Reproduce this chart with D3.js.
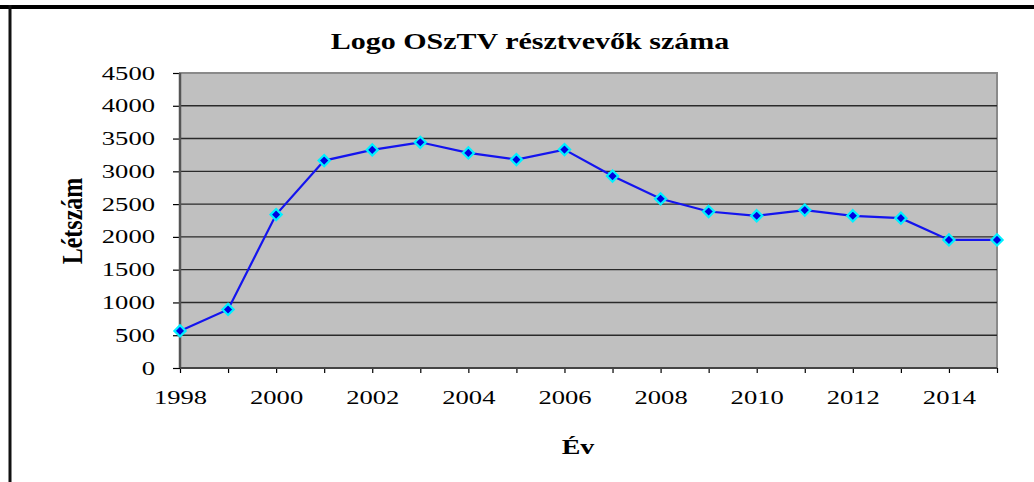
<!DOCTYPE html>
<html lang="hu">
<head>
    <meta charset="UTF-8">
    <title>Logo OSzTV résztvevők száma</title>
    <script src="https://d3js.org/d3.v7.min.js"></script>
    <style>
        html, body { margin: 0; padding: 0; background: #fff; }
        svg { display: block; }
        text { font-family: "Liberation Serif", "Times New Roman", serif; fill: #000; }
        .axis path { display: none; }
        .axis line { stroke: #000; stroke-width: 1.2px; }
        .axis text { font-size: 19px; }
        .grid line { stroke: #2a2a2a; stroke-width: 1.4px; }
    </style>
</head>
<body>
    <svg width="1034" height="482"></svg>

    <script>
        // data
        const years = [1998, 1999, 2000, 2001, 2002, 2003, 2004, 2005, 2006,
                       2007, 2008, 2009, 2010, 2011, 2012, 2013, 2014, 2015];
        const participants = [566, 893, 2340, 3164, 3327, 3443, 3281, 3179, 3332,
                              2928, 2581, 2387, 2322, 2409, 2322, 2286, 1954, 1954];
        const yTicks = [0, 500, 1000, 1500, 2000, 2500, 3000, 3500, 4000, 4500];

        const titleText = "Logo OSzTV résztvevők száma";
        const xLabel = "Év";
        const yLabel = "Létszám";

        const svg = d3.select("svg");
        const stretch = 1.4; // text in the original looks horizontally stretched

        const plot = { left: 180, right: 997, top: 73, bottom: 368 };

        const x = d3.scaleLinear()
            .domain([years[0], years[years.length - 1]])
            .range([plot.left, plot.right]);
        const y = d3.scaleLinear()
            .domain([0, 4500])
            .range([plot.bottom, plot.top]);

        // frame lines around the page
        svg.append("rect")
            .attr("x", 0).attr("y", 5)
            .attr("width", 1034).attr("height", 4)
            .attr("fill", "#000");
        svg.append("rect")
            .attr("x", 8.5).attr("y", 5)
            .attr("width", 3).attr("height", 477)
            .attr("fill", "#111");

        // plot background
        svg.append("rect")
            .attr("x", plot.left).attr("y", plot.top)
            .attr("width", plot.right - plot.left)
            .attr("height", plot.bottom - plot.top)
            .attr("fill", "#c0c0c0")
            .attr("stroke", "#8a8a8a")
            .attr("stroke-width", 2);

        // horizontal grid lines
        svg.append("g")
            .attr("class", "grid")
            .selectAll("line")
            .data(yTicks.filter(d => d > 0 && d < 4500))
            .enter().append("line")
            .attr("x1", plot.left).attr("x2", plot.right)
            .attr("y1", d => y(d)).attr("y2", d => y(d));

        // axes
        svg.append("g")
            .attr("class", "axis")
            .attr("transform", `translate(${plot.left},0)`)
            .call(d3.axisLeft(y).tickValues(yTicks).tickSize(7).tickPadding(18)
                .tickFormat(d3.format("d")));

        svg.append("g")
            .attr("class", "axis")
            .attr("transform", `translate(0,${plot.bottom})`)
            .call(d3.axisBottom(x).tickValues(years).tickSize(5).tickPadding(18)
                .tickFormat(d => d % 2 === 0 ? String(d) : ""));

        // stretch tick labels horizontally around their anchor
        svg.selectAll(".axis text").each(function () {
            const t = d3.select(this);
            const tx = +t.attr("x") || 0;
            t.attr("x", 0).attr("transform", `translate(${tx},0) scale(${stretch},1)`);
        });

        // axis lines
        svg.append("line")
            .attr("x1", plot.left).attr("x2", plot.left)
            .attr("y1", plot.top).attr("y2", plot.bottom)
            .attr("stroke", "#555").attr("stroke-width", 2.5);
        svg.append("line")
            .attr("x1", plot.left).attr("x2", plot.right)
            .attr("y1", plot.bottom).attr("y2", plot.bottom)
            .attr("stroke", "#444").attr("stroke-width", 2);

        // series line
        const line = d3.line()
            .x((d, i) => x(years[i]))
            .y(d => y(d));

        svg.append("path")
            .datum(participants)
            .attr("fill", "none")
            .attr("stroke", "#1414ee")
            .attr("stroke-width", 2.2)
            .attr("d", line);

        // diamond markers
        const diamond = d3.symbol().type(d3.symbolDiamond2).size(80);
        svg.append("g")
            .selectAll("path")
            .data(participants)
            .enter().append("path")
            .attr("d", diamond)
            .attr("transform", (d, i) => `translate(${x(years[i])},${y(d)})`)
            .attr("fill", "#0000e0")
            .attr("stroke", "#00f0ff")
            .attr("stroke-width", 2.2);

        // title
        svg.append("text")
            .attr("transform", `translate(530,49) scale(1.25,1)`)
            .attr("text-anchor", "middle")
            .style("font-size", "24px")
            .style("font-weight", "bold")
            .text(titleText);

        // axis titles
        svg.append("text")
            .attr("transform", `translate(578,454) scale(${stretch},1)`)
            .attr("text-anchor", "middle")
            .style("font-size", "20px")
            .style("font-weight", "bold")
            .text(xLabel);

        svg.append("text")
            .attr("transform", `translate(82,221) scale(1.25,1) rotate(-90)`)
            .attr("text-anchor", "middle")
            .style("font-size", "24px")
            .style("font-weight", "bold")
            .text(yLabel);
    </script>
</body>
</html>
